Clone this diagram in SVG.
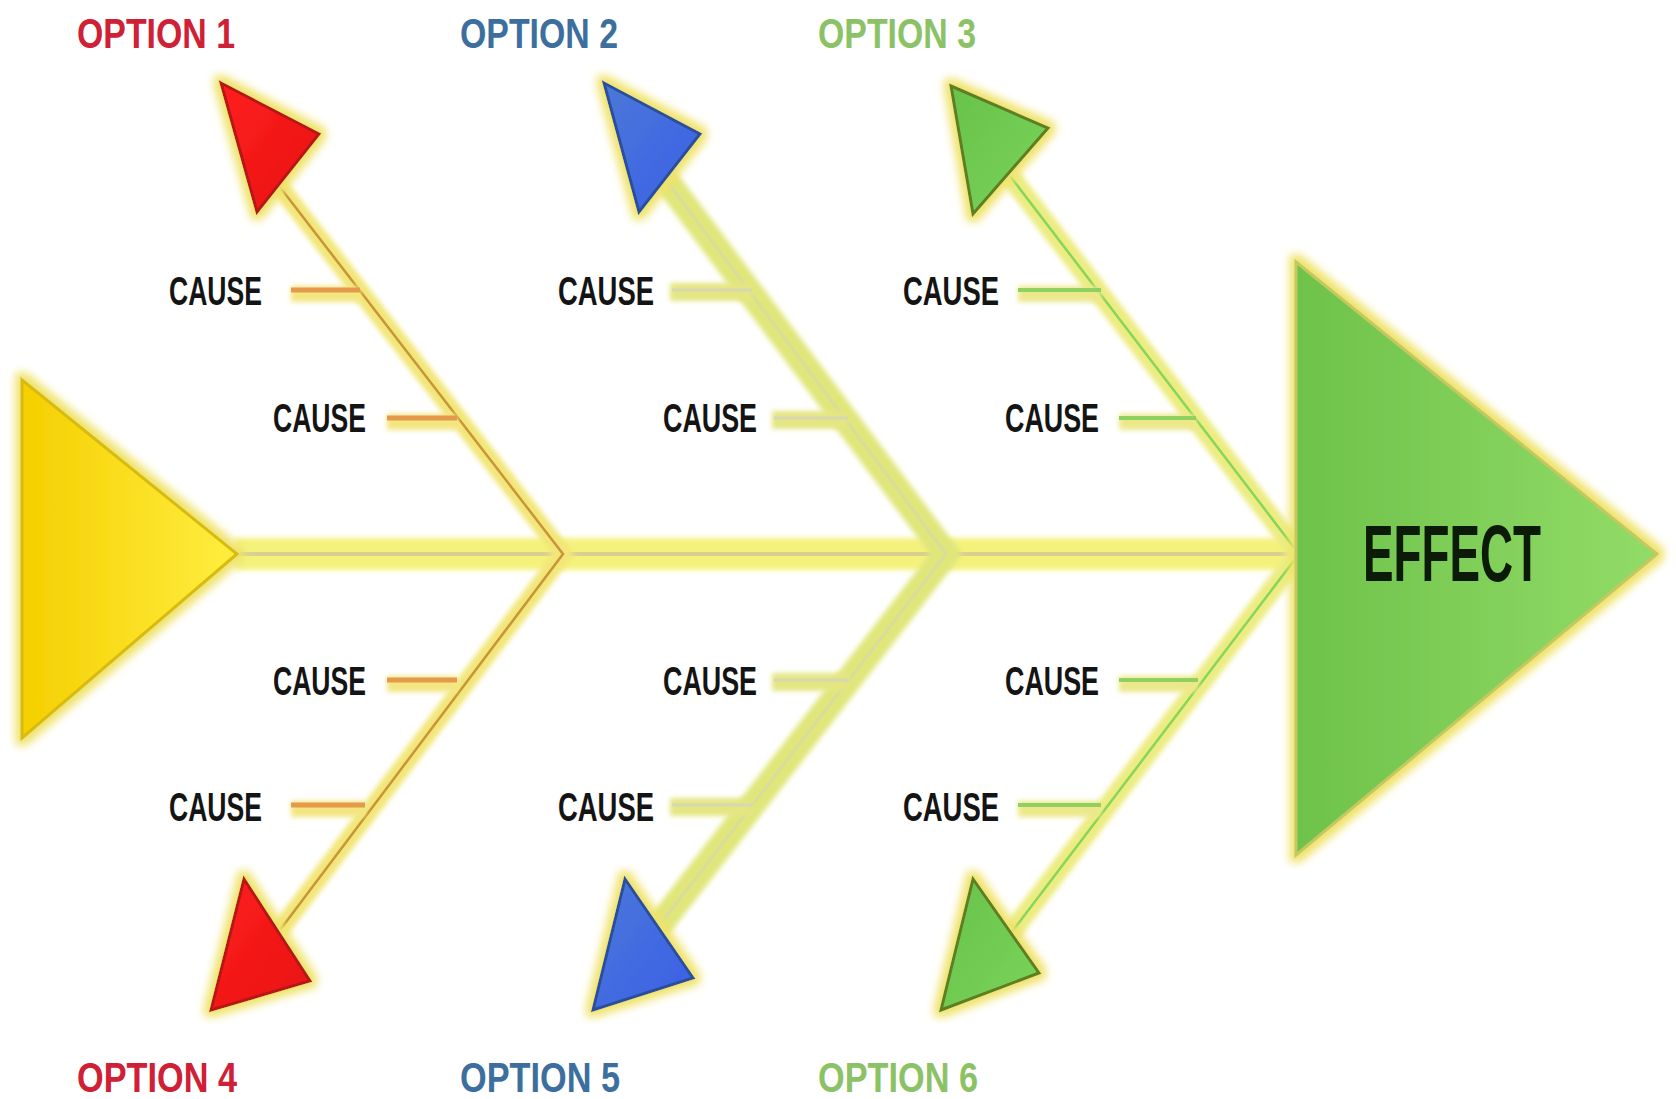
<svg xmlns="http://www.w3.org/2000/svg" width="1676" height="1099" viewBox="0 0 1676 1099">
<defs>
  <filter id="blur" filterUnits="userSpaceOnUse" x="0" y="0" width="1676" height="1099"><feGaussianBlur stdDeviation="2.5"/></filter>
  <filter id="glow" x="-30%" y="-30%" width="160%" height="160%">
    <feMorphology in="SourceAlpha" operator="dilate" radius="5" result="d"/>
    <feGaussianBlur in="d" stdDeviation="4" result="b"/>
    <feFlood flood-color="#efe36a" result="c"/>
    <feComposite in="c" in2="b" operator="in" result="g"/>
    <feMerge><feMergeNode in="g"/><feMergeNode in="SourceGraphic"/></feMerge>
  </filter>
  <linearGradient id="gYellow" x1="0" y1="0" x2="1" y2="0"><stop offset="0" stop-color="#f5cf00"/><stop offset="1" stop-color="#ffee40"/></linearGradient>
  <linearGradient id="gEffect" x1="0" y1="0" x2="1" y2="0"><stop offset="0" stop-color="#6ec24a"/><stop offset="1" stop-color="#92dc68"/></linearGradient>
  <linearGradient id="gRed" x1="0" y1="0" x2="1" y2="1"><stop offset="0" stop-color="#ff2020"/><stop offset="1" stop-color="#e81010"/></linearGradient>
  <linearGradient id="gBlue" x1="0" y1="0" x2="1" y2="1"><stop offset="0" stop-color="#4a78d8"/><stop offset="1" stop-color="#3b5fe8"/></linearGradient>
  <linearGradient id="gGreen" x1="0" y1="0" x2="1" y2="1"><stop offset="0" stop-color="#68c24c"/><stop offset="1" stop-color="#7ad458"/></linearGradient>
</defs>
<style>
  .lbl { font-family: "Liberation Sans", Arial, sans-serif; font-weight: bold; }
  .cause { font-size: 41px; fill: #141414; }
  .opt { font-size: 43px; }
  .o-red { fill: #cf2035; }
  .o-blue { fill: #3c6f9e; }
  .o-green { fill: #8cc266; }
  .halo { fill: none; stroke-linecap: butt; filter: url(#blur); }
</style>
<rect width="1676" height="1099" fill="#ffffff"/>

<g id="connectors">
  <!-- spine -->
  <line class="halo" x1="235" y1="554" x2="1299" y2="554" stroke="#f5f27c" stroke-width="32"/>
  <line x1="235" y1="554" x2="1299" y2="554" stroke="#d8d090" stroke-width="4"/>

  <!-- group 1 (orange) -->
  <g>
    <polyline class="halo" points="276,182 563,554 280,930" stroke="#f2e678" stroke-width="18"/>
    <polyline points="276,182 563,554 280,930" fill="none" stroke="#c8953a" stroke-width="2.5"/>
    <g class="halo" stroke="#f3e680" stroke-width="16">
      <line x1="291" y1="294" x2="360" y2="294"/><line x1="387" y1="422" x2="457" y2="422"/>
      <line x1="387" y1="684" x2="457" y2="684"/><line x1="291" y1="809" x2="365" y2="809"/>
    </g>
    <g stroke="#e49a4a" stroke-width="5">
      <line x1="291" y1="290" x2="360" y2="290"/><line x1="387" y1="418" x2="457" y2="418"/>
      <line x1="387" y1="680" x2="457" y2="680"/><line x1="291" y1="805" x2="365" y2="805"/>
    </g>
  </g>

  <!-- group 2 (pale) -->
  <g>
    <polyline class="halo" points="663,176 946,554 652,935" stroke="#e0e67a" stroke-width="26"/>
    <polyline points="663,176 946,554 652,935" fill="none" stroke="#d8dc9c" stroke-width="3"/>
    <g class="halo" stroke="#e4e682" stroke-width="18">
      <line x1="670" y1="292" x2="752" y2="292"/><line x1="772" y1="420" x2="848" y2="420"/>
      <line x1="772" y1="682" x2="848" y2="682"/><line x1="670" y1="807" x2="752" y2="807"/>
    </g>
    <g stroke="#d6d8b0" stroke-width="3">
      <line x1="672" y1="290" x2="752" y2="290"/><line x1="774" y1="418" x2="848" y2="418"/>
      <line x1="774" y1="680" x2="848" y2="680"/><line x1="672" y1="805" x2="752" y2="805"/>
    </g>
  </g>

  <!-- group 3 (green) -->
  <g>
    <polyline class="halo" points="1010,176 1299,554 1005,941" stroke="#ecec82" stroke-width="20"/>
    <polyline points="1010,176 1299,554 1005,941" fill="none" stroke="#86d65a" stroke-width="2.5"/>
    <g class="halo" stroke="#ece88a" stroke-width="16">
      <line x1="1018" y1="294" x2="1101" y2="294"/><line x1="1119" y1="422" x2="1196" y2="422"/>
      <line x1="1119" y1="684" x2="1198" y2="684"/><line x1="1018" y1="809" x2="1101" y2="809"/>
    </g>
    <g stroke="#8fd060" stroke-width="4">
      <line x1="1018" y1="290" x2="1101" y2="290"/><line x1="1119" y1="418" x2="1196" y2="418"/>
      <line x1="1119" y1="680" x2="1198" y2="680"/><line x1="1018" y1="805" x2="1101" y2="805"/>
    </g>
  </g>
</g>

<g id="head-start">
  <polygon points="22,380 237,554 22,738" fill="url(#gYellow)" stroke="#d9bb10" stroke-width="3" filter="url(#glow)"/>
</g>

<g id="effect">
  <polygon points="1296,262 1657,554 1296,855" fill="url(#gEffect)" stroke="#c4c860" stroke-width="3" filter="url(#glow)"/>
  <text class="lbl" x="1363" y="581" font-size="80" fill="#0c1a08" textLength="178" lengthAdjust="spacingAndGlyphs">EFFECT</text>
</g>

<g id="option1">
  <polygon points="221,83 319,134 257,212" fill="url(#gRed)" stroke="#b51818" stroke-width="3" filter="url(#glow)"/>
  <text class="lbl opt o-red" x="77" y="48" textLength="158" lengthAdjust="spacingAndGlyphs">OPTION 1</text>
</g>
<g id="option2">
  <polygon points="604,83 700,134 639,212" fill="url(#gBlue)" stroke="#2b4f9a" stroke-width="3" filter="url(#glow)"/>
  <text class="lbl opt o-blue" x="460" y="48" textLength="158" lengthAdjust="spacingAndGlyphs">OPTION 2</text>
</g>
<g id="option3">
  <polygon points="951,86 1048,128 973,214" fill="url(#gGreen)" stroke="#5d7e22" stroke-width="3" filter="url(#glow)"/>
  <text class="lbl opt o-green" x="818" y="48" textLength="158" lengthAdjust="spacingAndGlyphs">OPTION 3</text>
</g>
<g id="option4">
  <polygon points="244,879 310,981 211,1010" fill="url(#gRed)" stroke="#b51818" stroke-width="3" filter="url(#glow)"/>
  <text class="lbl opt o-red" x="77" y="1092" textLength="160" lengthAdjust="spacingAndGlyphs">OPTION 4</text>
</g>
<g id="option5">
  <polygon points="625,879 693,978 593,1010" fill="url(#gBlue)" stroke="#2b4f9a" stroke-width="3" filter="url(#glow)"/>
  <text class="lbl opt o-blue" x="460" y="1092" textLength="160" lengthAdjust="spacingAndGlyphs">OPTION 5</text>
</g>
<g id="option6">
  <polygon points="973,879 1039,973 941,1010" fill="url(#gGreen)" stroke="#5d7e22" stroke-width="3" filter="url(#glow)"/>
  <text class="lbl opt o-green" x="818" y="1092" textLength="160" lengthAdjust="spacingAndGlyphs">OPTION 6</text>
</g>

<g id="causes">
  <text class="lbl cause" x="169" y="305" textLength="93" lengthAdjust="spacingAndGlyphs">CAUSE</text>
  <text class="lbl cause" x="273" y="432" textLength="93" lengthAdjust="spacingAndGlyphs">CAUSE</text>
  <text class="lbl cause" x="273" y="695" textLength="93" lengthAdjust="spacingAndGlyphs">CAUSE</text>
  <text class="lbl cause" x="169" y="821" textLength="93" lengthAdjust="spacingAndGlyphs">CAUSE</text>
  <text class="lbl cause" x="558" y="305" textLength="96" lengthAdjust="spacingAndGlyphs">CAUSE</text>
  <text class="lbl cause" x="663" y="432" textLength="94" lengthAdjust="spacingAndGlyphs">CAUSE</text>
  <text class="lbl cause" x="663" y="695" textLength="94" lengthAdjust="spacingAndGlyphs">CAUSE</text>
  <text class="lbl cause" x="558" y="821" textLength="96" lengthAdjust="spacingAndGlyphs">CAUSE</text>
  <text class="lbl cause" x="903" y="305" textLength="96" lengthAdjust="spacingAndGlyphs">CAUSE</text>
  <text class="lbl cause" x="1005" y="432" textLength="94" lengthAdjust="spacingAndGlyphs">CAUSE</text>
  <text class="lbl cause" x="1005" y="695" textLength="94" lengthAdjust="spacingAndGlyphs">CAUSE</text>
  <text class="lbl cause" x="903" y="821" textLength="96" lengthAdjust="spacingAndGlyphs">CAUSE</text>
</g>
</svg>
